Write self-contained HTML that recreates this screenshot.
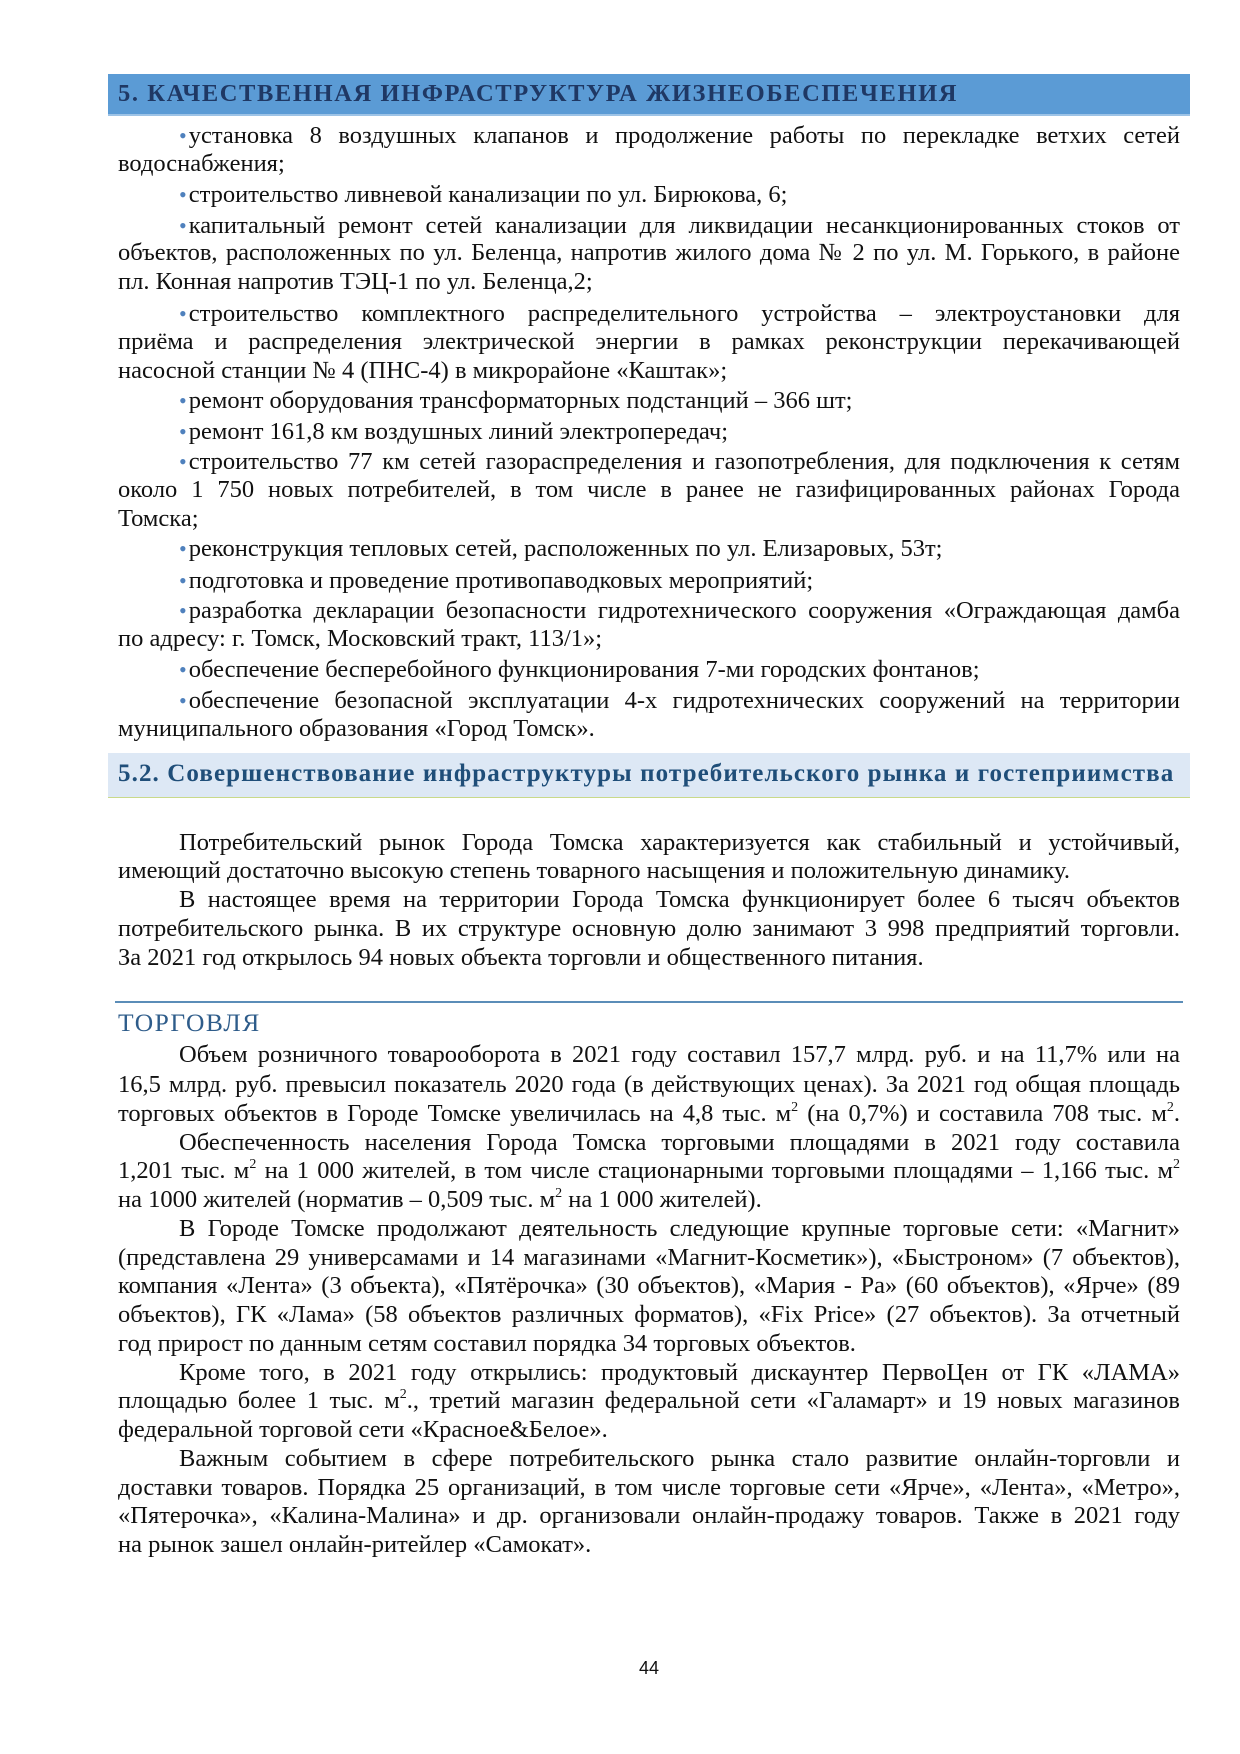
<!DOCTYPE html>
<html><head><meta charset="utf-8"><style>
body{margin:0;background:#fff}
#p{position:relative;width:1240px;height:1754px;overflow:hidden;font-family:"Liberation Serif","DejaVu Serif",serif;font-size:24.5px;color:#111}
.l{position:absolute;left:118px;width:1062px;height:29px;line-height:29px;white-space:normal;overflow:visible}
.i{left:179px;width:1001px}
.j{text-align:justify;text-align-last:justify}
.b{color:#4f81bd;font-size:22px;margin-right:2px}
sup{font-size:14px;line-height:0;vertical-align:10px}
</style></head><body><div id="p">
<div style="position:absolute;left:108px;top:74px;width:1082px;height:40px;background:#5b9bd5;border-bottom:2px solid #9dc3e6"></div>
<div style="position:absolute;left:118px;top:80px;font-weight:bold;font-size:24.5px;color:#1f3864;letter-spacing:1.6px;line-height:28px">5. КАЧЕСТВЕННАЯ ИНФРАСТРУКТУРА ЖИЗНЕОБЕСПЕЧЕНИЯ</div>

<div class="l i j" style="top:121px"><span class="b">•</span>установка 8 воздушных клапанов и продолжение работы по перекладке ветхих сетей</div>
<div class="l" style="top:149px">водоснабжения;</div>
<div class="l i" style="top:180px"><span class="b">•</span>строительство ливневой канализации по ул. Бирюкова, 6;</div>
<div class="l i j" style="top:211px"><span class="b">•</span>капитальный ремонт сетей канализации для ликвидации несанкционированных стоков от</div>
<div class="l j" style="top:238px">объектов, расположенных по ул. Беленца, напротив жилого дома № 2 по ул. М. Горького, в районе</div>
<div class="l" style="top:267px">пл. Конная напротив ТЭЦ-1 по ул. Беленца,2;</div>
<div class="l i j" style="top:299px"><span class="b">•</span>строительство комплектного распределительного устройства – электроустановки для</div>
<div class="l j" style="top:327px">приёма и распределения электрической энергии в рамках реконструкции перекачивающей</div>
<div class="l" style="top:356px">насосной станции № 4 (ПНС-4) в микрорайоне «Каштак»;</div>
<div class="l i" style="top:386px"><span class="b">•</span>ремонт оборудования трансформаторных подстанций – 366 шт;</div>
<div class="l i" style="top:417px"><span class="b">•</span>ремонт 161,8 км воздушных линий электропередач;</div>
<div class="l i j" style="top:447px"><span class="b">•</span>строительство 77 км сетей газораспределения и газопотребления, для подключения к сетям</div>
<div class="l j" style="top:475px">около 1 750 новых потребителей, в том числе в ранее не газифицированных районах Города</div>
<div class="l" style="top:504px">Томска;</div>
<div class="l i" style="top:534px"><span class="b">•</span>реконструкция тепловых сетей, расположенных по ул. Елизаровых, 53т;</div>
<div class="l i" style="top:566px"><span class="b">•</span>подготовка и проведение противопаводковых мероприятий;</div>
<div class="l i j" style="top:596px"><span class="b">•</span>разработка декларации безопасности гидротехнического сооружения «Ограждающая дамба</div>
<div class="l" style="top:624px">по адресу: г. Томск, Московский тракт, 113/1»;</div>
<div class="l i" style="top:655px"><span class="b">•</span>обеспечение бесперебойного функционирования 7-ми городских фонтанов;</div>
<div class="l i j" style="top:686px"><span class="b">•</span>обеспечение безопасной эксплуатации 4-х гидротехнических сооружений на территории</div>
<div class="l" style="top:714px">муниципального образования «Город Томск».</div>

<div style="position:absolute;left:108px;top:753px;width:1082px;height:44px;background:#dde8f5;border-bottom:1px solid #c9d98a"></div>
<div style="position:absolute;left:118px;top:760px;font-weight:bold;font-size:25px;color:#1f4e79;letter-spacing:1.1px;line-height:28px">5.2. Совершенствование инфраструктуры потребительского рынка и гостеприимства</div>

<div class="l i j" style="top:828px">Потребительский рынок Города Томска характеризуется как стабильный и устойчивый,</div>
<div class="l" style="top:856px">имеющий достаточно высокую степень товарного насыщения и положительную динамику.</div>
<div class="l i j" style="top:885px">В настоящее время на территории Города Томска функционирует более 6 тысяч объектов</div>
<div class="l j" style="top:914px">потребительского рынка. В их структуре основную долю занимают 3 998 предприятий торговли.</div>
<div class="l" style="top:943px">За 2021 год открылось 94 новых объекта торговли и общественного питания.</div>

<div style="position:absolute;left:115px;top:1001px;width:1068px;height:2px;background:#5b8db8"></div>
<div class="l" style="top:1008px;color:#2e5c8a;letter-spacing:1.5px;font-size:25.5px">ТОРГОВЛЯ</div>

<div class="l i j" style="top:1040px">Объем розничного товарооборота в 2021 году составил 157,7 млрд. руб. и на 11,7% или на</div>
<div class="l j" style="top:1070px">16,5 млрд. руб. превысил показатель 2020 года (в действующих ценах). За 2021 год общая площадь</div>
<div class="l j" style="top:1099px">торговых объектов в Городе Томске увеличилась на 4,8 тыс. м<sup>2</sup> (на 0,7%) и составила 708 тыс. м<sup>2</sup>.</div>
<div class="l i j" style="top:1128px">Обеспеченность населения Города Томска торговыми площадями в 2021 году составила</div>
<div class="l j" style="top:1156px">1,201 тыс. м<sup>2</sup> на 1 000 жителей, в том числе стационарными торговыми площадями – 1,166 тыс. м<sup>2</sup></div>
<div class="l" style="top:1185px">на 1000 жителей (норматив – 0,509 тыс. м<sup>2</sup> на 1 000 жителей).</div>
<div class="l i j" style="top:1214px">В Городе Томске продолжают деятельность следующие крупные торговые сети: «Магнит»</div>
<div class="l j" style="top:1243px">(представлена 29 универсамами и 14 магазинами «Магнит-Косметик»), «Быстроном» (7 объектов),</div>
<div class="l j" style="top:1271px">компания «Лента» (3 объекта), «Пятёрочка» (30 объектов), «Мария - Ра» (60 объектов), «Ярче» (89</div>
<div class="l j" style="top:1300px">объектов), ГК «Лама» (58 объектов различных форматов), «Fix Price» (27 объектов). За отчетный</div>
<div class="l" style="top:1329px">год прирост по данным сетям составил порядка 34 торговых объектов.</div>
<div class="l i j" style="top:1358px">Кроме того, в 2021 году открылись: продуктовый дискаунтер ПервоЦен от ГК «ЛАМА»</div>
<div class="l j" style="top:1386px">площадью более 1 тыс. м<sup>2</sup>., третий магазин федеральной сети «Галамарт» и 19 новых магазинов</div>
<div class="l" style="top:1415px">федеральной торговой сети «Красное&amp;Белое».</div>
<div class="l i j" style="top:1444px">Важным событием в сфере потребительского рынка стало развитие онлайн-торговли и</div>
<div class="l j" style="top:1473px">доставки товаров. Порядка 25 организаций, в том числе торговые сети «Ярче», «Лента», «Метро»,</div>
<div class="l j" style="top:1501px">«Пятерочка», «Калина-Малина» и др. организовали онлайн-продажу товаров. Также в 2021 году</div>
<div class="l" style="top:1530px">на рынок зашел онлайн-ритейлер «Самокат».</div>

<div style="position:absolute;left:620px;width:58px;top:1658px;text-align:center;font-family:'Liberation Sans',sans-serif;font-size:18px">44</div>
</div></body></html>
